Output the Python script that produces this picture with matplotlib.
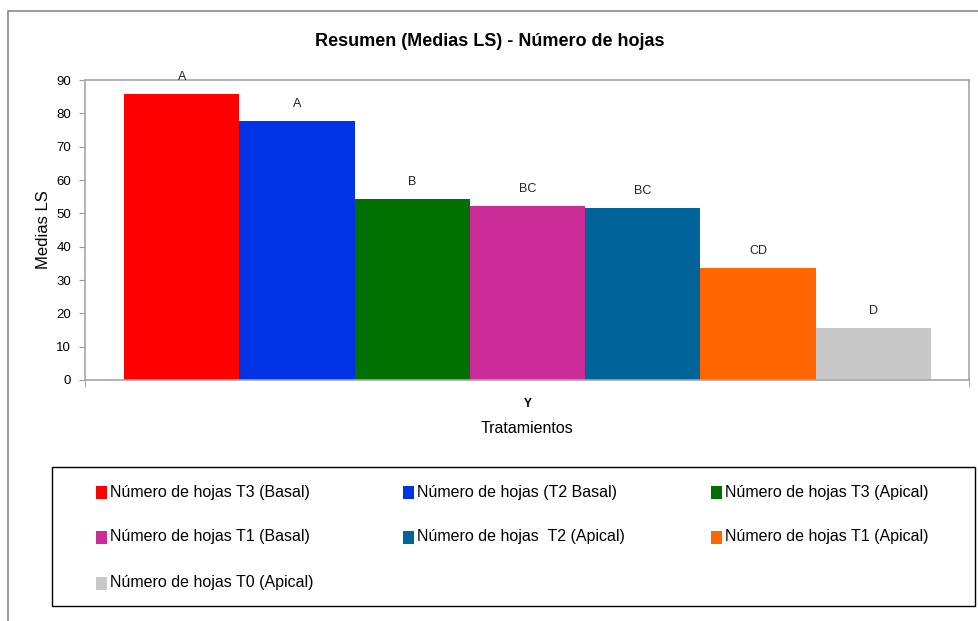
import matplotlib.pyplot as plt
from matplotlib.patches import Rectangle

# data
labels = ['Número de hojas T3 (Basal)', 'Número de hojas (T2 Basal)', 'Número de hojas T3 (Apical)',
          'Número de hojas T1 (Basal)', 'Número de hojas  T2 (Apical)', 'Número de hojas T1 (Apical)',
          'Número de hojas T0 (Apical)']
medias = [85.8, 77.7, 54.2, 52.1, 51.5, 33.7, 15.7]
letras = ['A', 'A', 'B', 'BC', 'BC', 'CD', 'D']
colores = ['#FF0000', '#0033E6', '#007000', '#CC2C98', '#00639A', '#FF6600', '#C8C8C8']

plt.rcParams['font.family'] = ['Liberation Sans', 'DejaVu Sans']

fig = plt.figure(figsize=(9.79, 6.21), dpi=100)
W, H = 979, 621
ax = fig.add_axes([85 / W, 1 - 380 / H, (969 - 85) / W, (380 - 80) / H])

xs = list(range(len(medias)))
ax.bar(xs, medias, width=1.0, color=colores, edgecolor='none')
for x, v, l in zip(xs, medias, letras):
    ax.annotate(l, (x, v), xytext=(0, 8), textcoords='offset points',
                ha='center', va='bottom', fontsize=9, color='#222222')

ax.set_xlim(-0.84, 6.83)
ax.set_ylim(0, 90)
ax.set_yticks(range(0, 91, 10))
ax.set_xticks([3])
ax.set_xticklabels(['Y'], fontweight='bold', fontsize=8.5)
ax.tick_params(axis='x', length=0, pad=13)
ax.tick_params(axis='y', length=4, color='#999999', labelsize=9.5, pad=6)
for s in ax.spines.values():
    s.set_color('#A6A6A6')
    s.set_linewidth(1.2)
ax.set_ylabel('Medias LS', fontsize=12, labelpad=4)
ax.set_xlabel('Tratamientos', fontsize=11.5, labelpad=8)
# category boundary ticks at the ends of the x axis
ax.set_xticks([-0.84, 6.83], minor=True)
ax.tick_params(axis='x', which='minor', length=5, color='#999999')

fig.text(0.5, 1 - 42 / H, 'Resumen (Medias LS) - Número de hojas', ha='center', va='center',
         fontsize=13, fontweight='bold')

# outer chart frame
fig.patches.append(Rectangle((8 / W, -0.05), 1.05, 1 - 11 / H + 0.05, transform=fig.transFigure,
                             fill=False, edgecolor='#888888', linewidth=1.2))

# legend box, entries laid out row by row as in the reference
fig.patches.append(Rectangle((52 / W, 1 - 606 / H), (975 - 52) / W, (606 - 467) / H,
                             transform=fig.transFigure, fill=False, edgecolor='black', linewidth=1.0))
col_x = [96, 403, 711]
row_y = [492, 537, 583]
sq_w, sq_h = 11, 13
for i, (lab, c) in enumerate(zip(labels, colores)):
    px = col_x[i % 3]
    py = row_y[i // 3]
    fig.patches.append(Rectangle((px / W, 1 - (py + sq_h / 2) / H), sq_w / W, sq_h / H,
                                 transform=fig.transFigure, facecolor=c, edgecolor='none'))
    fig.text((px + sq_w + 3) / W, 1 - py / H, lab, ha='left', va='center', fontsize=11.5)

fig.savefig('out.png', dpi=100)
